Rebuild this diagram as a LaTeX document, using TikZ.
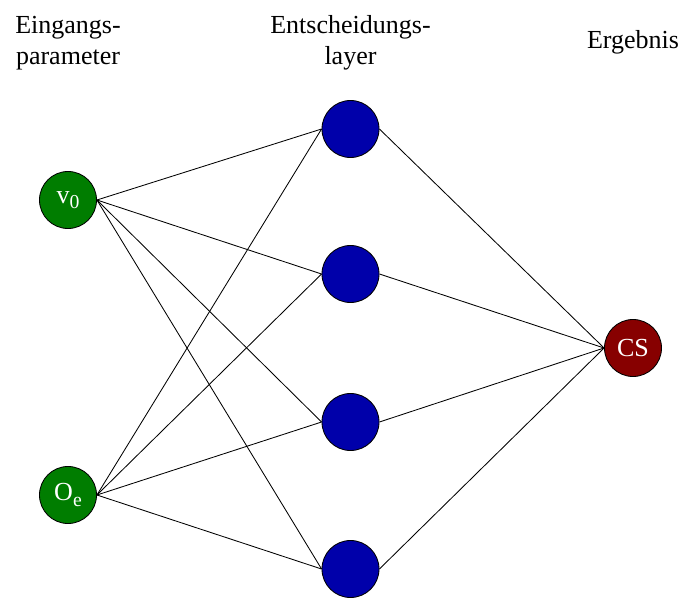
\documentclass[tikz,border=0pt]{standalone}
\usepackage{fontspec}
\setmainfont{Liberation Serif}
\newfontfamily\nnserif{Liberation Serif}
\definecolor{nngreen}{RGB}{0,125,0}
\definecolor{nnblue}{RGB}{0,0,170}
\definecolor{nnred}{RGB}{135,0,0}
\newcommand\nnfont{\nnserif\fontsize{18.5}{22}\selectfont}
\newcommand\nnsub[1]{\raisebox{-0.45ex}{\fontsize{14}{14}\selectfont #1}}
\tikzset{
  nnneuron/.style={circle, draw, line width=0.6pt, minimum size=1.425cm,
                   inner sep=0pt, text=white, font=\nnfont},
  nninput/.style={nnneuron, fill=nngreen},
  nnhidden/.style={nnneuron, fill=nnblue},
  nnoutput/.style={nnneuron, fill=nnred},
  nnlink/.style={draw, line width=0.6pt},
  nnheading/.style={align=center, font=\nnfont}
}

\begin{document}
\begin{tikzpicture}[x=0.025cm, y=-0.025cm]
  \useasboundingbox (0,0) rectangle (682,597);
  % Two inputs on the left, four decision units, one result.
  \node[nninput] (v0) at (68,200) {v\nnsub{0}};
  \node[nninput] (oe) at (68,495) {O\nnsub{e}};
  \foreach \i/\y in {1/129,2/274,3/422,4/569} {
    \node[nnhidden] (h\i) at (350.5,\y) {};
  }
  \node[nnoutput] (cs) at (633,348) {CS};
  % Every input feeds every unit, every unit feeds the result.
  \foreach \i in {1,...,4} {
    \draw[nnlink] (v0.east) -- (h\i.west);
    \draw[nnlink] (oe.east) -- (h\i.west);
    \draw[nnlink] (h\i.east) -- (cs.west);
  }
  % Column headings.
  \node[nnheading] (inhead)  at (68,43)    {Eingangs-\\parameter};
  \node[nnheading] (midhead) at (350.5,43) {Entscheidungs-\\layer};
  \node[nnheading] (outhead) at (633,42)   {Ergebnis};
\end{tikzpicture}
\end{document}
